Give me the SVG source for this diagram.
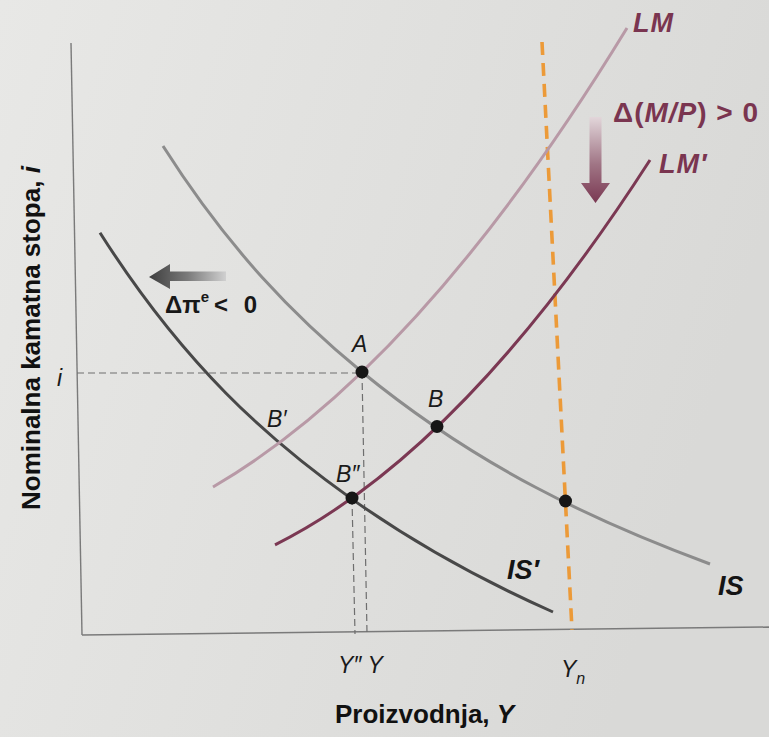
<svg xmlns="http://www.w3.org/2000/svg" width="769" height="737" viewBox="0 0 769 737">
  <defs>
    <linearGradient id="bg" x1="0" y1="0" x2="1" y2="0.3">
      <stop offset="0" stop-color="#e8e8e6"/>
      <stop offset="1" stop-color="#d9d9d7"/>
    </linearGradient>
    <linearGradient id="gLeft" x1="0" y1="0" x2="1" y2="0">
      <stop offset="0" stop-color="#3e3e3e"/>
      <stop offset="0.5" stop-color="#7a7a7a"/>
      <stop offset="1" stop-color="#d0d0d0"/>
    </linearGradient>
    <linearGradient id="gDown" x1="0" y1="0" x2="0" y2="1">
      <stop offset="0" stop-color="#e2d6da"/>
      <stop offset="0.55" stop-color="#a07585"/>
      <stop offset="1" stop-color="#7a3852"/>
    </linearGradient>
    <style>
      .axis { stroke: #7a7a7a; stroke-width: 1.4; fill: none; }
      .guide { stroke: #6e6e6e; stroke-width: 1.2; stroke-dasharray: 7 4; fill: none; }
      .yn { stroke: #ec9a38; stroke-width: 3.6; stroke-dasharray: 13 8; fill: none; }
      .curve { fill: none; stroke-width: 3; stroke-linecap: butt; }
      .is { stroke: #8c8c8c; }
      .isp { stroke: #484848; }
      .lm { stroke: #b899a6; }
      .lmp { stroke: #7b3853; }
      .dot { fill: #161616; }
      .pt { font-family: "Liberation Sans", Arial, sans-serif; font-style: italic; font-size: 23px; fill: #1a1a1a; }
      .cl { font-family: "Liberation Sans", Arial, sans-serif; font-style: italic; font-weight: bold; font-size: 27px; }
      .ax { font-family: "Liberation Sans", Arial, sans-serif; font-weight: bold; font-size: 26px; fill: #111; }
      .maroon { fill: #7a3550; }
      .blk { fill: #141414; }
    </style>
  </defs>

  <rect x="0" y="0" width="769" height="737" fill="url(#bg)"/>

  <g id="axes">
    <line class="axis" x1="71" y1="43" x2="82" y2="635"/>
    <line class="axis" x1="82" y1="635" x2="769" y2="627"/>
  </g>

  <g id="connectors">
    <line class="guide" x1="77" y1="373" x2="362" y2="373"/>
    <line class="guide" x1="362" y1="372" x2="367" y2="633"/>
    <line class="guide" x1="352" y1="498" x2="355" y2="634"/>
    <line class="yn" x1="542" y1="42" x2="572" y2="630"/>
  </g>

  <g id="curves">
    <path id="IS" class="curve is" d="M163,146 C229.3,250.3 295.7,317.6 362,372 C478,467.1 594,521 710,564"/>
    <path id="ISp" class="curve isp" d="M100,232.7 C184,365.1 268,439.5 352,499.1 C419,546.6 486,582.2 553,612"/>
    <path id="LM" class="curve lm" d="M213,487 Q420,366.5 627,28"/>
    <path id="LMp" class="curve lmp" d="M275,544.8 Q462.5,451.1 650,160"/>
  </g>

  <g id="shifts">
    <path d="M149,277 L170,264 L170,271.5 L226,271.5 L226,281 L170,281 L170,289 Z" fill="url(#gLeft)"/>
    <path d="M589.5,117 L601.5,117 L601.5,183 L610,183 L595.5,203 L581,183 L589.5,183 Z" fill="url(#gDown)"/>
  </g>

  <g id="points">
    <circle id="pA" class="dot" cx="362" cy="372" r="6.5"/>
    <circle id="pB" class="dot" cx="437" cy="426.5" r="6.5"/>
    <circle id="pB2" class="dot" cx="352" cy="498" r="6.5"/>
    <circle id="pYn" class="dot" cx="565.5" cy="501" r="6.5"/>
  </g>

  <g id="labels">
    <text class="pt" x="352" y="352">A</text>
    <text class="pt" x="428" y="407">B</text>
    <text class="pt" x="267" y="427">B′</text>
    <text class="pt" x="336" y="482">B″</text>
    <text class="pt" x="57" y="386">i</text>
    <text class="pt" x="338" y="673">Y″ Y</text>
    <text class="pt" x="561" y="677">Y<tspan font-size="16" dy="7">n</tspan></text>

    <text class="cl blk" x="718" y="595">IS</text>
    <text class="cl blk" x="507" y="579">IS′</text>
    <text class="cl maroon" x="633" y="32" letter-spacing="1">LM</text>
    <text class="cl maroon" x="659" y="173" letter-spacing="1">LM′</text>

    <text x="613" y="122" font-family="'Liberation Sans', Arial, sans-serif" font-weight="bold" font-size="28" letter-spacing="1" class="maroon">Δ(<tspan font-style="italic">M/P</tspan>) &gt; 0</text>

    <text x="165" y="313" font-family="'Liberation Sans', Arial, sans-serif" font-weight="bold" font-size="24" fill="#181818">Δπ<tspan font-size="15" dy="-11">e</tspan><tspan x="214" dy="11" word-spacing="9">&lt; 0</tspan></text>

    <text class="ax" x="335" y="723">Proizvodnja, <tspan font-style="italic">Y</tspan></text>
    <text class="ax" x="40" y="510" transform="rotate(-90 40 510)">Nominalna kamatna stopa, <tspan font-style="italic">i</tspan></text>
  </g>
</svg>
